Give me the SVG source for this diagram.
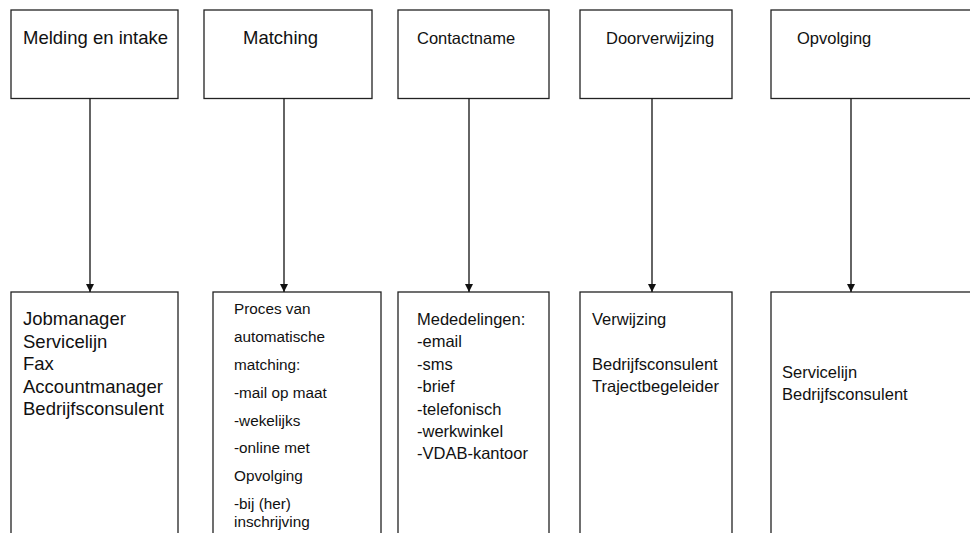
<svg xmlns="http://www.w3.org/2000/svg" width="970" height="533" viewBox="0 0 970 533">
  <style>
    .box { fill: #fff; stroke: #222; stroke-width: 1.3; }
    .lbl { font-family: "Liberation Sans", Arial, sans-serif; fill: #111; }
    .big { font-size: 18.5px; }
    .mid { font-size: 16.5px; }
    .small { font-size: 15.3px; }
    .conn { stroke: #111; stroke-width: 1.3; fill: none; marker-end: url(#arrow); }
  </style>
  <defs>
    <marker id="arrow" viewBox="0 0 8 8" refX="8" refY="4" markerWidth="8" markerHeight="8" markerUnits="userSpaceOnUse" orient="auto">
      <path d="M0,0 L8,4 L0,8 Z" fill="#111"/>
    </marker>
  </defs>
  <rect width="970" height="533" fill="#fff"/>

  <!-- stage headers -->
  <g id="stage-melding">
    <rect class="box" x="11" y="10" width="167" height="88.5"/>
    <text class="lbl big" x="23" y="44">Melding en intake</text>
  </g>
  <g id="stage-matching">
    <rect class="box" x="204" y="10" width="168" height="88.5"/>
    <text class="lbl big" x="243" y="44">Matching</text>
  </g>
  <g id="stage-contactname">
    <rect class="box" x="398" y="10" width="151" height="88.5"/>
    <text class="lbl mid" x="417" y="44">Contactname</text>
  </g>
  <g id="stage-doorverwijzing">
    <rect class="box" x="580" y="10" width="152" height="88.5"/>
    <text class="lbl mid" x="606" y="44">Doorverwijzing</text>
  </g>
  <g id="stage-opvolging">
    <rect class="box" x="771" y="10" width="210" height="88.5"/>
    <text class="lbl mid" x="797" y="44">Opvolging</text>
  </g>

  <!-- detail boxes -->
  <g id="detail-melding">
    <rect class="box" x="11" y="292" width="167" height="260"/>
    <text class="lbl big">
      <tspan x="23" y="325">Jobmanager</tspan>
      <tspan x="23" y="347.5">Servicelijn</tspan>
      <tspan x="23" y="370">Fax</tspan>
      <tspan x="23" y="392.5">Accountmanager</tspan>
      <tspan x="23" y="415">Bedrijfsconsulent</tspan>
    </text>
  </g>
  <g id="detail-matching">
    <rect class="box" x="213" y="292" width="168" height="260"/>
    <text class="lbl small">
      <tspan x="234" y="314">Proces van</tspan>
      <tspan x="234" y="342">automatische</tspan>
      <tspan x="234" y="370">matching:</tspan>
      <tspan x="234" y="397.5">-mail op maat</tspan>
      <tspan x="234" y="425.5">-wekelijks</tspan>
      <tspan x="234" y="453">-online met</tspan>
      <tspan x="234" y="481">Opvolging</tspan>
      <tspan x="234" y="509">-bij (her)</tspan>
      <tspan x="234" y="527">inschrijving</tspan>
    </text>
  </g>
  <g id="detail-contactname">
    <rect class="box" x="398" y="292" width="151" height="260"/>
    <text class="lbl mid">
      <tspan x="417" y="325">Mededelingen:</tspan>
      <tspan x="417" y="347.4">-email</tspan>
      <tspan x="417" y="369.8">-sms</tspan>
      <tspan x="417" y="392.2">-brief</tspan>
      <tspan x="417" y="414.6">-telefonisch</tspan>
      <tspan x="417" y="437">-werkwinkel</tspan>
      <tspan x="417" y="459.4">-VDAB-kantoor</tspan>
    </text>
  </g>
  <g id="detail-doorverwijzing">
    <rect class="box" x="580" y="292" width="152" height="260"/>
    <text class="lbl mid">
      <tspan x="592" y="325">Verwijzing</tspan>
      <tspan x="592" y="369.8">Bedrijfsconsulent</tspan>
      <tspan x="592" y="392.2">Trajectbegeleider</tspan>
    </text>
  </g>
  <g id="detail-opvolging">
    <rect class="box" x="771" y="292" width="210" height="260"/>
    <text class="lbl mid">
      <tspan x="782" y="377.5">Servicelijn</tspan>
      <tspan x="782" y="400">Bedrijfsconsulent</tspan>
    </text>
  </g>

  <!-- connectors -->
  <g id="connectors">
    <line class="conn" x1="90" y1="98.5" x2="90" y2="292"/>
    <line class="conn" x1="284" y1="98.5" x2="284" y2="292"/>
    <line class="conn" x1="469" y1="98.5" x2="469" y2="292"/>
    <line class="conn" x1="652" y1="98.5" x2="652" y2="292"/>
    <line class="conn" x1="851" y1="98.5" x2="851" y2="292"/>
  </g>
</svg>
